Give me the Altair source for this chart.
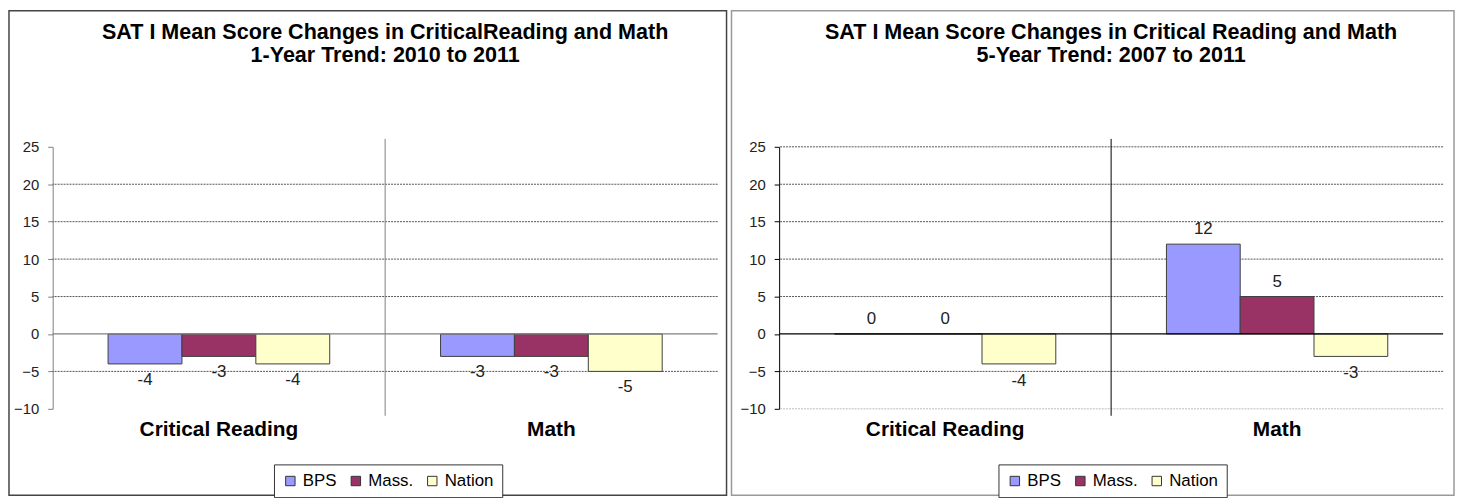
import altair as alt
import pandas as pd

# ---- data ----
categories = ["Critical Reading", "Math"]
series = ["BPS", "Mass.", "Nation"]
colors = ["#9999FF", "#993366", "#FFFFCC"]

one_year_bps = [-4, -3]
one_year_mass = [-3, -3]
one_year_nation = [-4, -5]

five_year_bps = [0, 12]
five_year_mass = [0, 5]
five_year_nation = [-4, -3]

y_ticks = [-10, -5, 0, 5, 10, 15, 20, 25]
grid_left = [20, 15, 10, 5, -5]
grid_right = [25, 20, 15, 10, 5, -5]
grid_right_light = [-10]

title_left = ["SAT I Mean Score Changes in CriticalReading and Math", "1-Year Trend: 2010 to 2011"]
title_right = ["SAT I Mean Score Changes in Critical Reading and Math", "5-Year Trend: 2007 to 2011"]

FONT = "Liberation Sans"
H = 264


def make_df(bps, mass, nation):
    rows = []
    for s, vals in zip(series, [bps, mass, nation]):
        for c, v in zip(categories, vals):
            rows.append({"category": c, "series": s, "value": v, "label": str(v)})
    return pd.DataFrame(rows)


def panel(df, title, width, rect_x1, rect_x2, axis_color, line_color, border_color,
          grid, grid_light, label_dy_neg, legend_x):
    X = alt.X("category:N", sort=categories,
              scale=alt.Scale(paddingInner=0, paddingOuter=0),
              axis=alt.Axis(title=None, domain=False, ticks=False, labelAngle=0,
                            labelFont=FONT, labelFontSize=21, labelFontWeight="bold",
                            labelColor="#000", labelPadding=10, grid=False))
    XO = alt.XOffset("series:N", sort=series,
                     scale=alt.Scale(domain=series, paddingInner=0, paddingOuter=0.75))
    Y = alt.Y("value:Q", scale=alt.Scale(domain=[-10, 25], nice=False, zero=False),
              axis=alt.Axis(values=y_ticks, title=None, grid=False,
                            domainColor=axis_color, tickColor=axis_color, tickSize=5,
                            labelFont=FONT, labelFontSize=15, labelColor="#222",
                            labelPadding=9))

    border = alt.Chart(pd.DataFrame({"d": [0]})).mark_rect(
        fillOpacity=0, stroke=border_color, strokeWidth=1.5
    ).encode(x=alt.value(rect_x1), x2=alt.value(rect_x2),
             y=alt.value(-137), y2=alt.value(H + 87))

    grid_layer = alt.Chart(pd.DataFrame({"value": grid})).mark_rule(
        color="#555", strokeDash=[2, 1], strokeWidth=1
    ).encode(y=Y)

    layers = [border, grid_layer]
    if grid_light:
        layers.append(alt.Chart(pd.DataFrame({"value": grid_light})).mark_rule(
            color="#bbb", strokeDash=[2, 1], strokeWidth=1).encode(y=Y))

    bars = alt.Chart(df).mark_bar(stroke="#404040", strokeWidth=1).encode(
        x=X, xOffset=XO, y=Y,
        color=alt.Color("series:N", sort=series,
                        scale=alt.Scale(domain=series, range=colors),
                        legend=alt.Legend(orient="none", legendX=legend_x, legendY=320,
                                          direction="horizontal", title=None,
                                          symbolType="square", symbolSize=90,
                                          symbolStrokeColor="#333", symbolStrokeWidth=1,
                                          labelFont=FONT, labelFontSize=17,
                                          labelColor="#000", strokeColor="#333",
                                          fillColor="white", padding=8,
                                          columnPadding=10, labelOffset=4)),
    )

    zero = alt.Chart(pd.DataFrame({"value": [0]})).mark_rule(
        color=line_color, strokeWidth=1.3).encode(y=Y)

    divider = alt.Chart(pd.DataFrame({"d": [0]})).mark_rule(
        color=line_color, strokeWidth=1).encode(
        x=alt.value(width / 2), y=alt.value(-8), y2=alt.value(H + 7))

    text_neg = alt.Chart(df).transform_filter("datum.value < 0").mark_text(
        font=FONT, fontSize=17, color="#222", dy=label_dy_neg, baseline="middle"
    ).encode(x=X, xOffset=XO, y=Y, text="label:N")

    layers += [bars, zero, divider, text_neg]
    if (df["value"] >= 0).any():
        text_pos = alt.Chart(df).transform_filter("datum.value >= 0").mark_text(
            font=FONT, fontSize=17, color="#222", dy=-15, baseline="middle"
        ).encode(x=X, xOffset=XO, y=Y, text="label:N")
        layers.append(text_pos)

    return alt.layer(*layers).properties(
        width=width, height=H,
        title=alt.TitleParams(text=title, font=FONT, fontSize=21.7, fontWeight="bold",
                              color="#000", anchor="middle", frame="group",
                              offset=-57, lineHeight=23),
    )


left = panel(make_df(one_year_bps, one_year_mass, one_year_nation), title_left, 670,
             -44, 679, "#808080", "#808080", "#444", grid_left, None, 16, 223)
right = panel(make_df(five_year_bps, five_year_mass, five_year_nation), title_right, 669,
              -48, 680, "#000", "#000", "#999", grid_right, grid_right_light, 17, 221)

chart = alt.hconcat(left, right, spacing=3).resolve_scale(
    x="independent", y="independent", color="independent", xOffset="independent"
).resolve_legend(color="independent").configure_view(stroke=None).properties(
    padding=0, background="white")

chart.save("out.html", embed_options={"renderer": "svg", "actions": False})
